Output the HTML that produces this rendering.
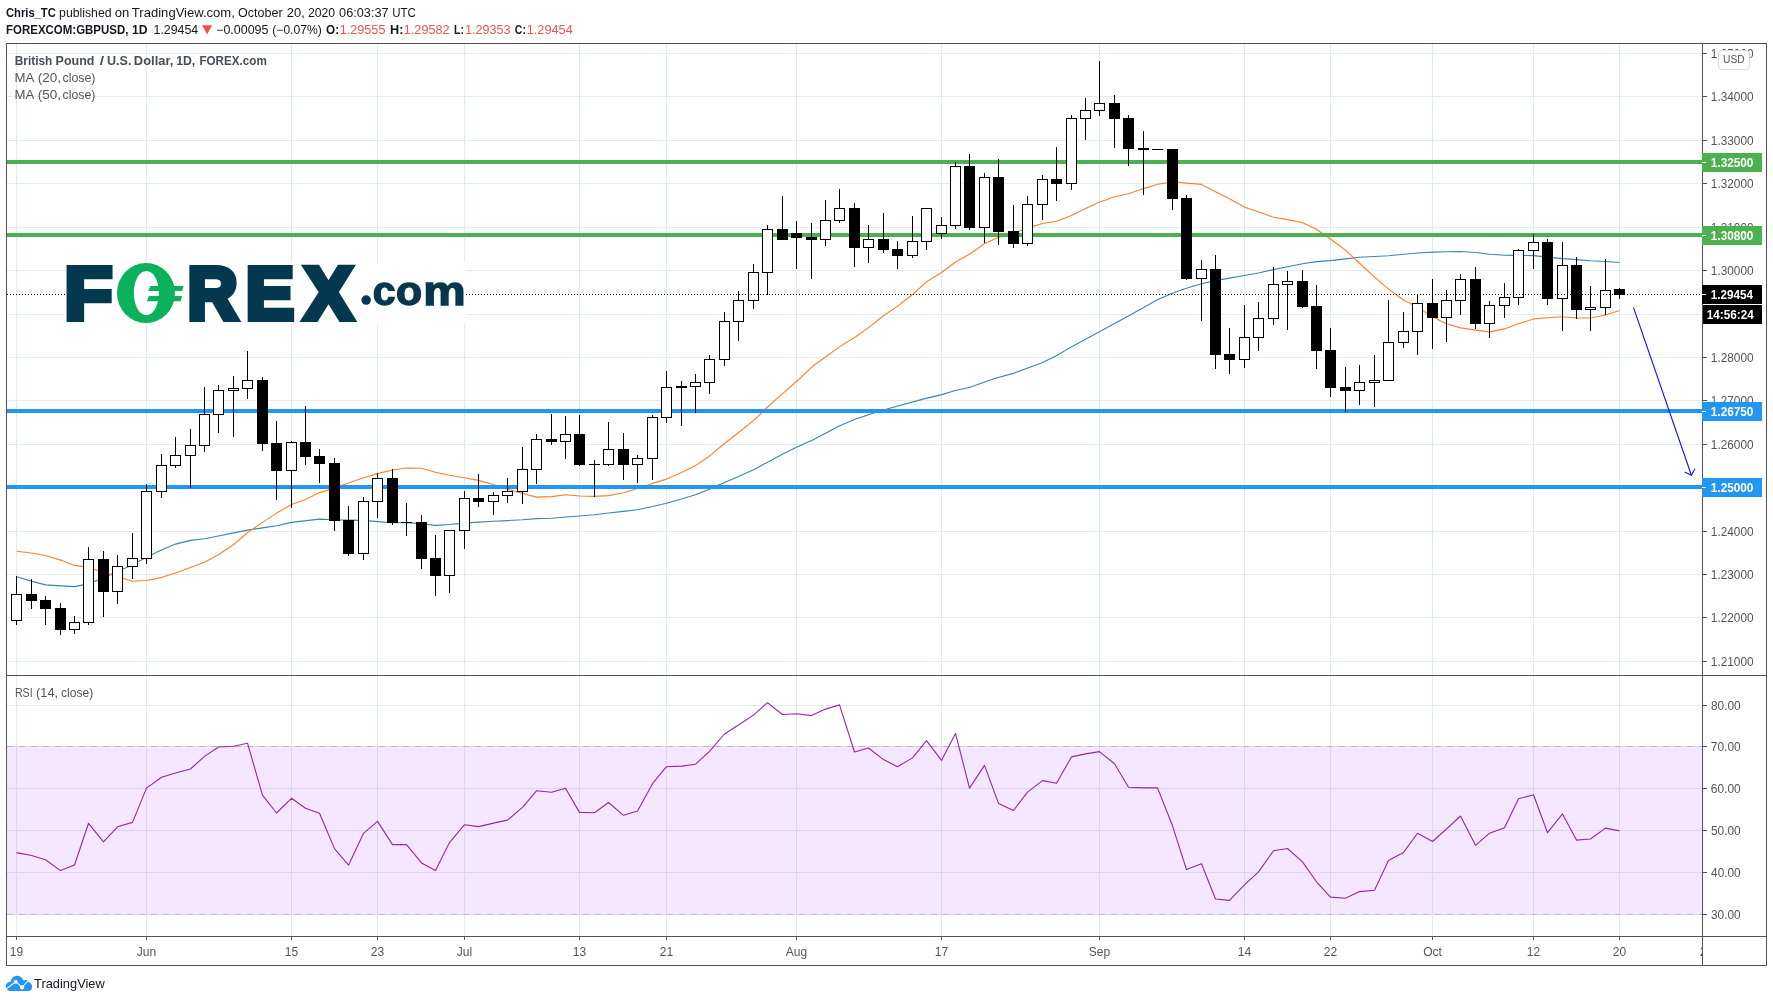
<!DOCTYPE html>
<html lang="en"><head><meta charset="utf-8"><title>GBPUSD chart</title>
<style>html,body{margin:0;padding:0;background:#fff;overflow:hidden}svg{display:block;will-change:transform;transform:translateZ(0)}text{white-space:pre}</style>
</head><body>
<svg width="1773" height="1002" viewBox="0 0 1773 1002" font-family="'Liberation Sans', Arial, sans-serif">
<rect x="0" y="0" width="1773" height="1002" fill="#ffffff"/>
<g shape-rendering="crispEdges">
<rect x="16" y="44" width="1" height="892" fill="#e1ecf2"/>
<rect x="146" y="44" width="1" height="892" fill="#e1ecf2"/>
<rect x="291" y="44" width="1" height="892" fill="#e1ecf2"/>
<rect x="377" y="44" width="1" height="892" fill="#e1ecf2"/>
<rect x="464" y="44" width="1" height="892" fill="#e1ecf2"/>
<rect x="579" y="44" width="1" height="892" fill="#e1ecf2"/>
<rect x="666" y="44" width="1" height="892" fill="#e1ecf2"/>
<rect x="796" y="44" width="1" height="892" fill="#e1ecf2"/>
<rect x="941" y="44" width="1" height="892" fill="#e1ecf2"/>
<rect x="1099" y="44" width="1" height="892" fill="#e1ecf2"/>
<rect x="1244" y="44" width="1" height="892" fill="#e1ecf2"/>
<rect x="1330" y="44" width="1" height="892" fill="#e1ecf2"/>
<rect x="1432" y="44" width="1" height="892" fill="#e1ecf2"/>
<rect x="1533" y="44" width="1" height="892" fill="#e1ecf2"/>
<rect x="1619" y="44" width="1" height="892" fill="#e1ecf2"/>
<rect x="7" y="53" width="1695" height="1" fill="#e1ecf2"/>
<rect x="7" y="96" width="1695" height="1" fill="#e1ecf2"/>
<rect x="7" y="140" width="1695" height="1" fill="#e1ecf2"/>
<rect x="7" y="183" width="1695" height="1" fill="#e1ecf2"/>
<rect x="7" y="227" width="1695" height="1" fill="#e1ecf2"/>
<rect x="7" y="270" width="1695" height="1" fill="#e1ecf2"/>
<rect x="7" y="314" width="1695" height="1" fill="#e1ecf2"/>
<rect x="7" y="357" width="1695" height="1" fill="#e1ecf2"/>
<rect x="7" y="400" width="1695" height="1" fill="#e1ecf2"/>
<rect x="7" y="444" width="1695" height="1" fill="#e1ecf2"/>
<rect x="7" y="487" width="1695" height="1" fill="#e1ecf2"/>
<rect x="7" y="531" width="1695" height="1" fill="#e1ecf2"/>
<rect x="7" y="574" width="1695" height="1" fill="#e1ecf2"/>
<rect x="7" y="617" width="1695" height="1" fill="#e1ecf2"/>
<rect x="7" y="661" width="1695" height="1" fill="#e1ecf2"/>
<rect x="7" y="705" width="1695" height="1" fill="#e1ecf2"/>
<rect x="7" y="746" width="1695" height="1" fill="#e1ecf2"/>
<rect x="7" y="788" width="1695" height="1" fill="#e1ecf2"/>
<rect x="7" y="830" width="1695" height="1" fill="#e1ecf2"/>
<rect x="7" y="872" width="1695" height="1" fill="#e1ecf2"/>
<rect x="7" y="914" width="1695" height="1" fill="#e1ecf2"/>
</g>
<rect x="7" y="746" width="1695" height="169" fill="rgba(153,21,255,0.10)" shape-rendering="crispEdges"/>
<line x1="7" y1="746.5" x2="1702" y2="746.5" stroke="#bdb9bb" stroke-width="1" stroke-dasharray="6,6" shape-rendering="crispEdges"/>
<line x1="7" y1="914.5" x2="1702" y2="914.5" stroke="#bdb9bb" stroke-width="1" stroke-dasharray="6,6" shape-rendering="crispEdges"/>
<polyline points="16.5,576.7 31.4,581.1 45.5,584.9 60.6,585.9 74.5,586.6 88.4,583.9 103.5,577.6 117.6,571.6 132.5,564.8 146.4,557.2 161.4,549.9 175.5,544.1 190.4,540.4 204.5,538.7 218.4,536.0 233.7,532.9 247.6,530.1 262.5,527.9 276.6,525.8 291.5,522.4 300.0,521.4 319.5,519.1 334.6,519.8 348.5,520.1 363.5,520.4 377.5,521.6 392.5,522.8 406.6,522.6 421.5,523.8 435.4,525.4 449.5,524.5 464.4,523.1 478.5,522.1 493.4,521.3 507.4,520.6 522.5,519.8 536.6,518.6 551.5,518.2 565.6,517.0 579.5,516.0 594.6,514.7 608.6,513.0 623.5,511.4 637.5,509.7 652.6,506.5 666.5,503.2 681.6,499.0 695.5,494.8 709.4,489.3 724.5,482.5 738.6,476.6 753.5,469.8 767.6,462.2 781.7,454.5 796.5,447.3 812.7,439.9 839.8,425.8 855.7,419.0 876.1,412.2 889.7,408.2 925.9,398.4 941.8,394.6 955.3,390.5 970.1,387.3 993.8,378.7 1014.2,373.1 1041.4,362.9 1055.0,356.5 1073.1,345.9 1100.3,331.2 1129.8,315.3 1156.9,299.9 1171.5,293.6 1186.5,288.3 1201.4,283.7 1215.5,280.6 1229.4,278.1 1244.5,275.5 1258.4,273.0 1273.5,269.6 1287.6,266.7 1302.5,263.7 1316.4,261.6 1330.5,260.6 1345.5,258.9 1359.5,257.2 1374.5,256.5 1388.6,255.7 1403.7,254.3 1417.6,253.0 1432.5,252.1 1446.6,251.8 1460.5,251.5 1475.5,252.5 1489.4,254.2 1504.5,255.2 1518.4,255.4 1533.5,255.6 1547.4,257.1 1562.5,258.6 1576.6,259.6 1590.5,260.7 1605.6,261.5 1619.5,262.5" fill="none" stroke="#3c85aa" stroke-width="1.1" stroke-linejoin="round"/>
<polyline points="16.5,551.3 31.4,553.0 45.5,555.5 60.6,560.1 74.5,565.4 88.4,567.4 103.5,572.5 117.6,576.7 132.5,581.3 146.4,580.5 161.4,577.6 175.5,573.0 190.4,567.4 204.5,562.3 218.4,554.7 233.7,544.5 247.6,532.6 262.5,522.4 276.6,513.1 291.5,504.6 305.5,499.5 319.5,492.6 334.6,488.0 348.5,483.0 363.5,477.7 377.5,473.6 392.5,470.0 406.6,468.0 421.5,468.2 435.4,472.2 449.5,475.3 464.4,477.7 478.5,480.4 493.4,484.5 507.4,489.2 522.5,493.5 536.6,497.1 551.5,496.6 565.6,494.7 579.5,496.0 594.5,496.4 608.6,495.6 623.5,492.7 637.5,488.5 652.6,483.4 666.5,479.1 681.6,472.4 695.5,465.6 709.4,456.2 724.5,443.5 738.6,432.5 753.5,420.6 767.6,407.0 781.7,394.3 796.5,381.5 812.7,366.3 825.5,357.0 839.8,346.6 855.7,336.8 868.5,327.6 883.4,315.8 897.4,306.4 912.5,294.5 926.6,281.8 941.5,272.5 955.6,262.0 969.5,254.2 984.6,243.5 998.4,237.5 1013.5,233.2 1027.4,228.1 1042.5,223.5 1056.6,221.3 1071.5,215.4 1085.6,208.6 1099.5,202.2 1114.5,196.7 1128.5,193.7 1143.5,188.6 1157.6,184.3 1166.9,182.8 1178.0,182.3 1186.6,183.1 1201.5,184.4 1215.5,191.7 1229.5,198.8 1244.7,207.2 1258.8,212.0 1273.5,217.2 1287.6,219.6 1302.2,222.5 1316.3,229.2 1330.4,239.0 1345.6,250.1 1359.8,263.5 1374.5,277.2 1388.6,289.1 1403.7,300.2 1417.6,306.9 1426.2,312.9 1439.8,320.5 1446.5,323.8 1460.5,327.9 1475.5,330.1 1489.4,331.9 1504.5,328.9 1518.4,323.8 1533.5,318.9 1547.4,317.8 1562.5,316.8 1576.6,318.0 1590.5,318.0 1605.6,315.0 1619.5,310.5" fill="none" stroke="#ff7f27" stroke-width="1.1" stroke-linejoin="round"/>
<g shape-rendering="crispEdges">
<rect x="7" y="160" width="1695" height="4" fill="#4caf50"/>
<rect x="7" y="233" width="1695" height="4" fill="#4caf50"/>
<rect x="7" y="409" width="1695" height="4" fill="#2196f3"/>
<rect x="7" y="485" width="1695" height="4" fill="#2196f3"/>
<rect x="16" y="576" width="1" height="49" fill="#000"/>
<rect x="11" y="594" width="11" height="27" fill="#000"/>
<rect x="12" y="595" width="9" height="25" fill="#fff"/>
<rect x="31" y="579" width="1" height="30" fill="#000"/>
<rect x="26" y="594" width="11" height="7" fill="#000"/>
<rect x="45" y="596" width="1" height="29" fill="#000"/>
<rect x="40" y="600" width="11" height="9" fill="#000"/>
<rect x="60" y="603" width="1" height="32" fill="#000"/>
<rect x="55" y="608" width="11" height="22" fill="#000"/>
<rect x="74" y="616" width="1" height="18" fill="#000"/>
<rect x="69" y="622" width="11" height="8" fill="#000"/>
<rect x="70" y="623" width="9" height="6" fill="#fff"/>
<rect x="88" y="547" width="1" height="78" fill="#000"/>
<rect x="83" y="559" width="11" height="64" fill="#000"/>
<rect x="84" y="560" width="9" height="62" fill="#fff"/>
<rect x="103" y="551" width="1" height="66" fill="#000"/>
<rect x="98" y="559" width="11" height="33" fill="#000"/>
<rect x="117" y="555" width="1" height="49" fill="#000"/>
<rect x="112" y="566" width="11" height="26" fill="#000"/>
<rect x="113" y="567" width="9" height="24" fill="#fff"/>
<rect x="132" y="533" width="1" height="46" fill="#000"/>
<rect x="127" y="558" width="11" height="9" fill="#000"/>
<rect x="128" y="559" width="9" height="7" fill="#fff"/>
<rect x="146" y="484" width="1" height="80" fill="#000"/>
<rect x="141" y="491" width="11" height="68" fill="#000"/>
<rect x="142" y="492" width="9" height="66" fill="#fff"/>
<rect x="161" y="454" width="1" height="44" fill="#000"/>
<rect x="156" y="465" width="11" height="27" fill="#000"/>
<rect x="157" y="466" width="9" height="25" fill="#fff"/>
<rect x="175" y="437" width="1" height="31" fill="#000"/>
<rect x="170" y="455" width="11" height="11" fill="#000"/>
<rect x="171" y="456" width="9" height="9" fill="#fff"/>
<rect x="190" y="429" width="1" height="59" fill="#000"/>
<rect x="185" y="445" width="11" height="11" fill="#000"/>
<rect x="186" y="446" width="9" height="9" fill="#fff"/>
<rect x="204" y="387" width="1" height="65" fill="#000"/>
<rect x="199" y="414" width="11" height="32" fill="#000"/>
<rect x="200" y="415" width="9" height="30" fill="#fff"/>
<rect x="218" y="385" width="1" height="48" fill="#000"/>
<rect x="213" y="390" width="11" height="25" fill="#000"/>
<rect x="214" y="391" width="9" height="23" fill="#fff"/>
<rect x="233" y="376" width="1" height="61" fill="#000"/>
<rect x="228" y="388" width="11" height="3" fill="#000"/>
<rect x="229" y="389" width="9" height="1" fill="#fff"/>
<rect x="247" y="351" width="1" height="48" fill="#000"/>
<rect x="242" y="380" width="11" height="9" fill="#000"/>
<rect x="243" y="381" width="9" height="7" fill="#fff"/>
<rect x="262" y="377" width="1" height="74" fill="#000"/>
<rect x="257" y="380" width="11" height="64" fill="#000"/>
<rect x="276" y="421" width="1" height="79" fill="#000"/>
<rect x="271" y="443" width="11" height="28" fill="#000"/>
<rect x="291" y="441" width="1" height="67" fill="#000"/>
<rect x="286" y="442" width="11" height="29" fill="#000"/>
<rect x="287" y="443" width="9" height="27" fill="#fff"/>
<rect x="305" y="406" width="1" height="59" fill="#000"/>
<rect x="300" y="442" width="11" height="15" fill="#000"/>
<rect x="319" y="449" width="1" height="34" fill="#000"/>
<rect x="314" y="456" width="11" height="8" fill="#000"/>
<rect x="334" y="458" width="1" height="73" fill="#000"/>
<rect x="329" y="463" width="11" height="58" fill="#000"/>
<rect x="348" y="506" width="1" height="50" fill="#000"/>
<rect x="343" y="520" width="11" height="34" fill="#000"/>
<rect x="363" y="497" width="1" height="63" fill="#000"/>
<rect x="358" y="501" width="11" height="53" fill="#000"/>
<rect x="359" y="502" width="9" height="51" fill="#fff"/>
<rect x="377" y="473" width="1" height="45" fill="#000"/>
<rect x="372" y="478" width="11" height="24" fill="#000"/>
<rect x="373" y="479" width="9" height="22" fill="#fff"/>
<rect x="392" y="469" width="1" height="56" fill="#000"/>
<rect x="387" y="478" width="11" height="45" fill="#000"/>
<rect x="406" y="503" width="1" height="33" fill="#000"/>
<rect x="401" y="522" width="11" height="1" fill="#000"/>
<rect x="421" y="515" width="1" height="54" fill="#000"/>
<rect x="416" y="522" width="11" height="37" fill="#000"/>
<rect x="435" y="535" width="1" height="61" fill="#000"/>
<rect x="430" y="558" width="11" height="18" fill="#000"/>
<rect x="449" y="530" width="1" height="63" fill="#000"/>
<rect x="444" y="530" width="11" height="46" fill="#000"/>
<rect x="445" y="531" width="9" height="44" fill="#fff"/>
<rect x="464" y="491" width="1" height="58" fill="#000"/>
<rect x="459" y="498" width="11" height="33" fill="#000"/>
<rect x="460" y="499" width="9" height="31" fill="#fff"/>
<rect x="478" y="474" width="1" height="33" fill="#000"/>
<rect x="473" y="498" width="11" height="4" fill="#000"/>
<rect x="493" y="492" width="1" height="23" fill="#000"/>
<rect x="488" y="495" width="11" height="7" fill="#000"/>
<rect x="489" y="496" width="9" height="5" fill="#fff"/>
<rect x="507" y="478" width="1" height="25" fill="#000"/>
<rect x="502" y="491" width="11" height="5" fill="#000"/>
<rect x="503" y="492" width="9" height="3" fill="#fff"/>
<rect x="522" y="447" width="1" height="57" fill="#000"/>
<rect x="517" y="469" width="11" height="23" fill="#000"/>
<rect x="518" y="470" width="9" height="21" fill="#fff"/>
<rect x="536" y="434" width="1" height="50" fill="#000"/>
<rect x="531" y="439" width="11" height="31" fill="#000"/>
<rect x="532" y="440" width="9" height="29" fill="#fff"/>
<rect x="551" y="414" width="1" height="31" fill="#000"/>
<rect x="546" y="439" width="11" height="3" fill="#000"/>
<rect x="565" y="416" width="1" height="43" fill="#000"/>
<rect x="560" y="434" width="11" height="8" fill="#000"/>
<rect x="561" y="435" width="9" height="6" fill="#fff"/>
<rect x="579" y="415" width="1" height="51" fill="#000"/>
<rect x="574" y="434" width="11" height="31" fill="#000"/>
<rect x="594" y="460" width="1" height="37" fill="#000"/>
<rect x="589" y="464" width="11" height="1" fill="#000"/>
<rect x="608" y="422" width="1" height="44" fill="#000"/>
<rect x="603" y="449" width="11" height="16" fill="#000"/>
<rect x="604" y="450" width="9" height="14" fill="#fff"/>
<rect x="623" y="433" width="1" height="47" fill="#000"/>
<rect x="618" y="449" width="11" height="16" fill="#000"/>
<rect x="637" y="455" width="1" height="28" fill="#000"/>
<rect x="632" y="458" width="11" height="7" fill="#000"/>
<rect x="633" y="459" width="9" height="5" fill="#fff"/>
<rect x="652" y="415" width="1" height="65" fill="#000"/>
<rect x="647" y="417" width="11" height="42" fill="#000"/>
<rect x="648" y="418" width="9" height="40" fill="#fff"/>
<rect x="666" y="371" width="1" height="52" fill="#000"/>
<rect x="661" y="387" width="11" height="31" fill="#000"/>
<rect x="662" y="388" width="9" height="29" fill="#fff"/>
<rect x="681" y="381" width="1" height="45" fill="#000"/>
<rect x="676" y="386" width="11" height="2" fill="#000"/>
<rect x="695" y="374" width="1" height="39" fill="#000"/>
<rect x="690" y="382" width="11" height="5" fill="#000"/>
<rect x="691" y="383" width="9" height="3" fill="#fff"/>
<rect x="709" y="355" width="1" height="39" fill="#000"/>
<rect x="704" y="359" width="11" height="24" fill="#000"/>
<rect x="705" y="360" width="9" height="22" fill="#fff"/>
<rect x="724" y="312" width="1" height="54" fill="#000"/>
<rect x="719" y="321" width="11" height="39" fill="#000"/>
<rect x="720" y="322" width="9" height="37" fill="#fff"/>
<rect x="738" y="291" width="1" height="50" fill="#000"/>
<rect x="733" y="300" width="11" height="22" fill="#000"/>
<rect x="734" y="301" width="9" height="20" fill="#fff"/>
<rect x="753" y="264" width="1" height="45" fill="#000"/>
<rect x="748" y="272" width="11" height="29" fill="#000"/>
<rect x="749" y="273" width="9" height="27" fill="#fff"/>
<rect x="767" y="225" width="1" height="70" fill="#000"/>
<rect x="762" y="229" width="11" height="44" fill="#000"/>
<rect x="763" y="230" width="9" height="42" fill="#fff"/>
<rect x="782" y="196" width="1" height="44" fill="#000"/>
<rect x="777" y="229" width="11" height="11" fill="#000"/>
<rect x="796" y="221" width="1" height="48" fill="#000"/>
<rect x="791" y="233" width="11" height="5" fill="#000"/>
<rect x="811" y="223" width="1" height="56" fill="#000"/>
<rect x="806" y="237" width="11" height="3" fill="#000"/>
<rect x="825" y="200" width="1" height="46" fill="#000"/>
<rect x="820" y="220" width="11" height="20" fill="#000"/>
<rect x="821" y="221" width="9" height="18" fill="#fff"/>
<rect x="839" y="189" width="1" height="34" fill="#000"/>
<rect x="834" y="208" width="11" height="13" fill="#000"/>
<rect x="835" y="209" width="9" height="11" fill="#fff"/>
<rect x="854" y="203" width="1" height="64" fill="#000"/>
<rect x="849" y="208" width="11" height="40" fill="#000"/>
<rect x="868" y="225" width="1" height="38" fill="#000"/>
<rect x="863" y="239" width="11" height="9" fill="#000"/>
<rect x="864" y="240" width="9" height="7" fill="#fff"/>
<rect x="883" y="213" width="1" height="40" fill="#000"/>
<rect x="878" y="239" width="11" height="11" fill="#000"/>
<rect x="897" y="241" width="1" height="28" fill="#000"/>
<rect x="892" y="249" width="11" height="7" fill="#000"/>
<rect x="912" y="216" width="1" height="42" fill="#000"/>
<rect x="907" y="241" width="11" height="15" fill="#000"/>
<rect x="908" y="242" width="9" height="13" fill="#fff"/>
<rect x="926" y="208" width="1" height="42" fill="#000"/>
<rect x="921" y="208" width="11" height="34" fill="#000"/>
<rect x="922" y="209" width="9" height="32" fill="#fff"/>
<rect x="941" y="217" width="1" height="22" fill="#000"/>
<rect x="936" y="225" width="11" height="9" fill="#000"/>
<rect x="937" y="226" width="9" height="7" fill="#fff"/>
<rect x="955" y="162" width="1" height="67" fill="#000"/>
<rect x="950" y="166" width="11" height="60" fill="#000"/>
<rect x="951" y="167" width="9" height="58" fill="#fff"/>
<rect x="969" y="154" width="1" height="76" fill="#000"/>
<rect x="964" y="166" width="11" height="62" fill="#000"/>
<rect x="984" y="173" width="1" height="70" fill="#000"/>
<rect x="979" y="177" width="11" height="51" fill="#000"/>
<rect x="980" y="178" width="9" height="49" fill="#fff"/>
<rect x="998" y="159" width="1" height="86" fill="#000"/>
<rect x="993" y="177" width="11" height="55" fill="#000"/>
<rect x="1013" y="205" width="1" height="43" fill="#000"/>
<rect x="1008" y="231" width="11" height="13" fill="#000"/>
<rect x="1027" y="196" width="1" height="50" fill="#000"/>
<rect x="1022" y="204" width="11" height="40" fill="#000"/>
<rect x="1023" y="205" width="9" height="38" fill="#fff"/>
<rect x="1042" y="175" width="1" height="45" fill="#000"/>
<rect x="1037" y="179" width="11" height="26" fill="#000"/>
<rect x="1038" y="180" width="9" height="24" fill="#fff"/>
<rect x="1056" y="147" width="1" height="54" fill="#000"/>
<rect x="1051" y="179" width="11" height="5" fill="#000"/>
<rect x="1071" y="115" width="1" height="75" fill="#000"/>
<rect x="1066" y="118" width="11" height="66" fill="#000"/>
<rect x="1067" y="119" width="9" height="64" fill="#fff"/>
<rect x="1085" y="98" width="1" height="42" fill="#000"/>
<rect x="1080" y="110" width="11" height="9" fill="#000"/>
<rect x="1081" y="111" width="9" height="7" fill="#fff"/>
<rect x="1099" y="61" width="1" height="55" fill="#000"/>
<rect x="1094" y="103" width="11" height="8" fill="#000"/>
<rect x="1095" y="104" width="9" height="6" fill="#fff"/>
<rect x="1114" y="95" width="1" height="53" fill="#000"/>
<rect x="1109" y="103" width="11" height="16" fill="#000"/>
<rect x="1128" y="115" width="1" height="51" fill="#000"/>
<rect x="1123" y="118" width="11" height="31" fill="#000"/>
<rect x="1143" y="131" width="1" height="64" fill="#000"/>
<rect x="1138" y="148" width="11" height="2" fill="#000"/>
<rect x="1152" y="149" width="11" height="1" fill="#000"/>
<rect x="1172" y="149" width="1" height="61" fill="#000"/>
<rect x="1167" y="149" width="11" height="50" fill="#000"/>
<rect x="1186" y="195" width="1" height="85" fill="#000"/>
<rect x="1181" y="198" width="11" height="81" fill="#000"/>
<rect x="1201" y="260" width="1" height="61" fill="#000"/>
<rect x="1196" y="269" width="11" height="10" fill="#000"/>
<rect x="1197" y="270" width="9" height="8" fill="#fff"/>
<rect x="1215" y="255" width="1" height="114" fill="#000"/>
<rect x="1210" y="269" width="11" height="86" fill="#000"/>
<rect x="1229" y="328" width="1" height="46" fill="#000"/>
<rect x="1224" y="354" width="11" height="6" fill="#000"/>
<rect x="1244" y="305" width="1" height="63" fill="#000"/>
<rect x="1239" y="337" width="11" height="23" fill="#000"/>
<rect x="1240" y="338" width="9" height="21" fill="#fff"/>
<rect x="1258" y="302" width="1" height="49" fill="#000"/>
<rect x="1253" y="318" width="11" height="20" fill="#000"/>
<rect x="1254" y="319" width="9" height="18" fill="#fff"/>
<rect x="1273" y="267" width="1" height="58" fill="#000"/>
<rect x="1268" y="284" width="11" height="35" fill="#000"/>
<rect x="1269" y="285" width="9" height="33" fill="#fff"/>
<rect x="1287" y="271" width="1" height="59" fill="#000"/>
<rect x="1282" y="281" width="11" height="4" fill="#000"/>
<rect x="1283" y="282" width="9" height="2" fill="#fff"/>
<rect x="1302" y="270" width="1" height="38" fill="#000"/>
<rect x="1297" y="281" width="11" height="26" fill="#000"/>
<rect x="1316" y="285" width="1" height="84" fill="#000"/>
<rect x="1311" y="306" width="11" height="45" fill="#000"/>
<rect x="1330" y="328" width="1" height="69" fill="#000"/>
<rect x="1325" y="350" width="11" height="38" fill="#000"/>
<rect x="1345" y="367" width="1" height="45" fill="#000"/>
<rect x="1340" y="387" width="11" height="4" fill="#000"/>
<rect x="1359" y="365" width="1" height="40" fill="#000"/>
<rect x="1354" y="382" width="11" height="9" fill="#000"/>
<rect x="1355" y="383" width="9" height="7" fill="#fff"/>
<rect x="1374" y="355" width="1" height="52" fill="#000"/>
<rect x="1369" y="380" width="11" height="3" fill="#000"/>
<rect x="1370" y="381" width="9" height="1" fill="#fff"/>
<rect x="1388" y="300" width="1" height="81" fill="#000"/>
<rect x="1383" y="342" width="11" height="39" fill="#000"/>
<rect x="1384" y="343" width="9" height="37" fill="#fff"/>
<rect x="1403" y="312" width="1" height="36" fill="#000"/>
<rect x="1398" y="331" width="11" height="12" fill="#000"/>
<rect x="1399" y="332" width="9" height="10" fill="#fff"/>
<rect x="1417" y="294" width="1" height="61" fill="#000"/>
<rect x="1412" y="303" width="11" height="29" fill="#000"/>
<rect x="1413" y="304" width="9" height="27" fill="#fff"/>
<rect x="1432" y="279" width="1" height="70" fill="#000"/>
<rect x="1427" y="303" width="11" height="15" fill="#000"/>
<rect x="1446" y="290" width="1" height="52" fill="#000"/>
<rect x="1441" y="300" width="11" height="18" fill="#000"/>
<rect x="1442" y="301" width="9" height="16" fill="#fff"/>
<rect x="1460" y="274" width="1" height="41" fill="#000"/>
<rect x="1455" y="279" width="11" height="22" fill="#000"/>
<rect x="1456" y="280" width="9" height="20" fill="#fff"/>
<rect x="1475" y="267" width="1" height="62" fill="#000"/>
<rect x="1470" y="279" width="11" height="45" fill="#000"/>
<rect x="1489" y="301" width="1" height="37" fill="#000"/>
<rect x="1484" y="305" width="11" height="19" fill="#000"/>
<rect x="1485" y="306" width="9" height="17" fill="#fff"/>
<rect x="1504" y="283" width="1" height="35" fill="#000"/>
<rect x="1499" y="297" width="11" height="9" fill="#000"/>
<rect x="1500" y="298" width="9" height="7" fill="#fff"/>
<rect x="1518" y="249" width="1" height="56" fill="#000"/>
<rect x="1513" y="250" width="11" height="48" fill="#000"/>
<rect x="1514" y="251" width="9" height="46" fill="#fff"/>
<rect x="1533" y="234" width="1" height="35" fill="#000"/>
<rect x="1528" y="242" width="11" height="9" fill="#000"/>
<rect x="1529" y="243" width="9" height="7" fill="#fff"/>
<rect x="1547" y="239" width="1" height="66" fill="#000"/>
<rect x="1542" y="242" width="11" height="57" fill="#000"/>
<rect x="1562" y="242" width="1" height="89" fill="#000"/>
<rect x="1557" y="265" width="11" height="34" fill="#000"/>
<rect x="1558" y="266" width="9" height="32" fill="#fff"/>
<rect x="1576" y="257" width="1" height="62" fill="#000"/>
<rect x="1571" y="265" width="11" height="45" fill="#000"/>
<rect x="1590" y="286" width="1" height="45" fill="#000"/>
<rect x="1585" y="307" width="11" height="3" fill="#000"/>
<rect x="1586" y="308" width="9" height="1" fill="#fff"/>
<rect x="1605" y="259" width="1" height="56" fill="#000"/>
<rect x="1600" y="290" width="11" height="18" fill="#000"/>
<rect x="1601" y="291" width="9" height="16" fill="#fff"/>
<rect x="1619" y="288" width="1" height="11" fill="#000"/>
<rect x="1614" y="289" width="11" height="6" fill="#000"/>
</g>
<line x1="7" y1="294.5" x2="1702" y2="294.5" stroke="#000" stroke-width="1" stroke-dasharray="1,2" shape-rendering="crispEdges"/>
<g stroke="#1414ff" stroke-width="1.15" fill="none" stroke-linecap="round">
<line x1="1633.6" y1="307.9" x2="1691.4" y2="475.3"/>
<polyline points="1685.1,472.2 1691.4,475.3 1694.7,469.2"/>
</g>
<polyline points="16.5,852.6 31.5,855.5 45.5,859.7 60.5,870.6 74.5,865.0 88.5,823.3 103.5,841.9 117.5,826.8 132.5,822.4 146.5,788.1 161.5,777.2 175.5,773.0 190.5,769.0 204.5,756.4 218.5,747.0 233.5,746.2 247.5,743.2 262.5,795.2 276.5,813.0 291.5,798.3 305.5,808.2 319.5,813.2 334.5,848.6 348.5,865.2 363.5,833.3 377.5,821.4 392.5,844.6 406.5,844.6 421.5,862.9 435.5,870.4 449.5,842.6 464.5,824.7 478.5,826.6 493.5,823.1 507.5,820.1 522.5,807.4 536.5,790.8 551.5,792.3 565.5,788.3 579.5,812.4 594.5,812.8 608.5,802.5 623.5,815.3 637.5,810.9 652.5,783.7 666.5,766.7 681.5,766.1 695.5,764.2 709.5,751.4 724.5,734.0 738.5,725.0 753.5,715.1 767.5,702.6 782.5,714.5 796.5,713.7 811.5,715.6 825.5,709.1 839.5,704.9 854.5,752.0 868.5,748.0 883.5,759.6 897.5,766.7 912.5,757.9 926.5,740.7 941.5,760.4 955.5,733.4 969.5,788.1 984.5,765.4 998.5,803.4 1013.5,810.5 1027.5,792.1 1042.5,780.6 1056.5,783.3 1071.5,756.9 1085.5,753.9 1099.5,751.6 1114.5,763.8 1128.5,787.3 1143.5,787.9 1157.5,787.9 1172.5,825.8 1186.5,869.6 1201.5,863.8 1215.5,899.0 1229.5,900.4 1244.5,884.9 1258.5,871.9 1273.5,850.8 1287.5,848.5 1302.5,861.9 1316.5,881.8 1330.5,897.1 1345.5,898.3 1359.5,891.6 1374.5,890.2 1388.5,860.4 1403.5,852.4 1417.5,833.2 1432.5,841.5 1446.5,829.0 1460.5,816.0 1475.5,845.3 1489.5,833.2 1504.5,827.7 1518.5,798.8 1533.5,794.8 1547.5,832.7 1562.5,813.9 1576.5,840.1 1590.5,839.0 1605.5,828.1 1619.5,830.9" fill="none" stroke="#9527ab" stroke-width="1.1" stroke-linejoin="round"/>
<g shape-rendering="crispEdges">
<rect x="6" y="43" width="1761" height="1" fill="#50535e"/>
<rect x="6" y="965" width="1761" height="1" fill="#50535e"/>
<rect x="6" y="43" width="1" height="923" fill="#50535e"/>
<rect x="1766" y="43" width="1" height="923" fill="#50535e"/>
<rect x="1702" y="43" width="1" height="923" fill="#50535e"/>
<rect x="6" y="675" width="1761" height="1" fill="#50535e"/>
<rect x="6" y="936" width="1761" height="1" fill="#50535e"/>
<rect x="16" y="937" width="1" height="3" fill="#50535e"/>
<rect x="146" y="937" width="1" height="3" fill="#50535e"/>
<rect x="291" y="937" width="1" height="3" fill="#50535e"/>
<rect x="377" y="937" width="1" height="3" fill="#50535e"/>
<rect x="464" y="937" width="1" height="3" fill="#50535e"/>
<rect x="579" y="937" width="1" height="3" fill="#50535e"/>
<rect x="666" y="937" width="1" height="3" fill="#50535e"/>
<rect x="796" y="937" width="1" height="3" fill="#50535e"/>
<rect x="941" y="937" width="1" height="3" fill="#50535e"/>
<rect x="1099" y="937" width="1" height="3" fill="#50535e"/>
<rect x="1244" y="937" width="1" height="3" fill="#50535e"/>
<rect x="1330" y="937" width="1" height="3" fill="#50535e"/>
<rect x="1432" y="937" width="1" height="3" fill="#50535e"/>
<rect x="1533" y="937" width="1" height="3" fill="#50535e"/>
<rect x="1619" y="937" width="1" height="3" fill="#50535e"/>
<rect x="1703" y="53" width="4" height="1" fill="#50535e"/>
<rect x="1703" y="96" width="4" height="1" fill="#50535e"/>
<rect x="1703" y="140" width="4" height="1" fill="#50535e"/>
<rect x="1703" y="183" width="4" height="1" fill="#50535e"/>
<rect x="1703" y="227" width="4" height="1" fill="#50535e"/>
<rect x="1703" y="270" width="4" height="1" fill="#50535e"/>
<rect x="1703" y="314" width="4" height="1" fill="#50535e"/>
<rect x="1703" y="357" width="4" height="1" fill="#50535e"/>
<rect x="1703" y="400" width="4" height="1" fill="#50535e"/>
<rect x="1703" y="444" width="4" height="1" fill="#50535e"/>
<rect x="1703" y="487" width="4" height="1" fill="#50535e"/>
<rect x="1703" y="531" width="4" height="1" fill="#50535e"/>
<rect x="1703" y="574" width="4" height="1" fill="#50535e"/>
<rect x="1703" y="617" width="4" height="1" fill="#50535e"/>
<rect x="1703" y="661" width="4" height="1" fill="#50535e"/>
<rect x="1703" y="705" width="4" height="1" fill="#50535e"/>
<rect x="1703" y="746" width="4" height="1" fill="#50535e"/>
<rect x="1703" y="788" width="4" height="1" fill="#50535e"/>
<rect x="1703" y="830" width="4" height="1" fill="#50535e"/>
<rect x="1703" y="872" width="4" height="1" fill="#50535e"/>
<rect x="1703" y="914" width="4" height="1" fill="#50535e"/>
</g>
<text transform="translate(1710.81,57.8) scale(0.9857,1)" font-size="12" fill="#555555">1.35000</text>
<text transform="translate(1710.81,100.8) scale(0.9857,1)" font-size="12" fill="#555555">1.34000</text>
<text transform="translate(1710.81,144.8) scale(0.9857,1)" font-size="12" fill="#555555">1.33000</text>
<text transform="translate(1710.81,187.8) scale(0.9857,1)" font-size="12" fill="#555555">1.32000</text>
<text transform="translate(1710.81,231.8) scale(0.9857,1)" font-size="12" fill="#555555">1.31000</text>
<text transform="translate(1710.81,274.8) scale(0.9857,1)" font-size="12" fill="#555555">1.30000</text>
<text transform="translate(1710.81,318.8) scale(0.9857,1)" font-size="12" fill="#555555">1.29000</text>
<text transform="translate(1710.81,361.8) scale(0.9857,1)" font-size="12" fill="#555555">1.28000</text>
<text transform="translate(1710.81,404.8) scale(0.9857,1)" font-size="12" fill="#555555">1.27000</text>
<text transform="translate(1710.81,448.8) scale(0.9857,1)" font-size="12" fill="#555555">1.26000</text>
<text transform="translate(1710.81,491.8) scale(0.9857,1)" font-size="12" fill="#555555">1.25000</text>
<text transform="translate(1710.81,535.8) scale(0.9857,1)" font-size="12" fill="#555555">1.24000</text>
<text transform="translate(1710.81,578.8) scale(0.9857,1)" font-size="12" fill="#555555">1.23000</text>
<text transform="translate(1710.81,621.8) scale(0.9857,1)" font-size="12" fill="#555555">1.22000</text>
<text transform="translate(1710.81,665.8) scale(0.9857,1)" font-size="12" fill="#555555">1.21000</text>
<text transform="translate(1710.90,709.8) scale(0.9931,1)" font-size="12" fill="#555555">80.00</text>
<text transform="translate(1710.80,750.8) scale(0.9966,1)" font-size="12" fill="#555555">70.00</text>
<text transform="translate(1710.80,792.8) scale(0.9966,1)" font-size="12" fill="#555555">60.00</text>
<text transform="translate(1710.90,834.8) scale(0.9931,1)" font-size="12" fill="#555555">50.00</text>
<text transform="translate(1711.10,876.8) scale(0.9863,1)" font-size="12" fill="#555555">40.00</text>
<text transform="translate(1710.90,918.8) scale(0.9931,1)" font-size="12" fill="#555555">30.00</text>
<rect x="1718.5" y="50.5" width="31" height="19" rx="3.5" fill="#fff" stroke="#d6d9e0" stroke-width="1"/>
<text transform="translate(1723.10,62.9) scale(0.8904,1)" font-size="11.5" fill="#555555">USD</text>
<g shape-rendering="crispEdges">
<rect x="1702" y="153" width="60" height="19" fill="#4caf50"/>
<rect x="1702" y="162" width="4" height="1" fill="#fff"/>
<rect x="1702" y="226" width="60" height="19" fill="#4caf50"/>
<rect x="1702" y="235" width="4" height="1" fill="#fff"/>
<rect x="1702" y="402" width="60" height="19" fill="#2196f3"/>
<rect x="1702" y="411" width="4" height="1" fill="#fff"/>
<rect x="1702" y="478" width="60" height="19" fill="#2196f3"/>
<rect x="1702" y="487" width="4" height="1" fill="#fff"/>
<rect x="1702" y="285" width="60" height="19" fill="#000"/>
<rect x="1702" y="294" width="4" height="1" fill="#fff"/>
<rect x="1703" y="305" width="59" height="19" fill="#000"/>
</g>
<text transform="translate(1710.81,167.0) scale(0.9834,1)" font-size="12" fill="#fff" font-weight="bold">1.32500</text>
<text transform="translate(1710.81,240.0) scale(0.9834,1)" font-size="12" fill="#fff" font-weight="bold">1.30800</text>
<text transform="translate(1710.81,416.0) scale(0.9834,1)" font-size="12" fill="#fff" font-weight="bold">1.26750</text>
<text transform="translate(1710.81,492.0) scale(0.9834,1)" font-size="12" fill="#fff" font-weight="bold">1.25000</text>
<text transform="translate(1710.82,299.0) scale(0.9741,1)" font-size="12" fill="#fff" font-weight="bold">1.29454</text>
<text transform="translate(1706.72,319.0) scale(0.9788,1)" font-size="12" fill="#fff" font-weight="bold">14:56:24</text>
<text x="16.5" y="955.8" font-size="12" fill="#555555" text-anchor="middle">19</text>
<text x="146.5" y="955.8" font-size="12" fill="#555555" text-anchor="middle">Jun</text>
<text x="291.5" y="955.8" font-size="12" fill="#555555" text-anchor="middle">15</text>
<text x="377.5" y="955.8" font-size="12" fill="#555555" text-anchor="middle">23</text>
<text x="464.5" y="955.8" font-size="12" fill="#555555" text-anchor="middle">Jul</text>
<text x="579.5" y="955.8" font-size="12" fill="#555555" text-anchor="middle">13</text>
<text x="666.5" y="955.8" font-size="12" fill="#555555" text-anchor="middle">21</text>
<text x="796.5" y="955.8" font-size="12" fill="#555555" text-anchor="middle">Aug</text>
<text x="941.5" y="955.8" font-size="12" fill="#555555" text-anchor="middle">17</text>
<text x="1099.5" y="955.8" font-size="12" fill="#555555" text-anchor="middle">Sep</text>
<text x="1244.5" y="955.8" font-size="12" fill="#555555" text-anchor="middle">14</text>
<text x="1330.5" y="955.8" font-size="12" fill="#555555" text-anchor="middle">22</text>
<text x="1432.5" y="955.8" font-size="12" fill="#555555" text-anchor="middle">Oct</text>
<text x="1533.5" y="955.8" font-size="12" fill="#555555" text-anchor="middle">12</text>
<text x="1619.5" y="955.8" font-size="12" fill="#555555" text-anchor="middle">20</text>
<clipPath id="tc"><rect x="7" y="937" width="1695" height="28"/></clipPath>
<g clip-path="url(#tc)">
<text x="1706.5" y="955.8" font-size="12" fill="#555555" text-anchor="middle">28</text>
</g>
<text transform="translate(14.81,64.75) scale(0.9890,1)" font-size="12" fill="#4a4d57" font-weight="bold">British</text>
<text transform="translate(55.57,64.75) scale(1.0420,1)" font-size="12" fill="#4a4d57" font-weight="bold">Pound</text>
<text transform="translate(99.76,64.75) scale(1.3000,1)" font-size="12" fill="#4a4d57" font-weight="bold">/</text>
<text transform="translate(106.96,64.75) scale(1.0505,1)" font-size="12" fill="#4a4d57" font-weight="bold">U.S.</text>
<text transform="translate(133.84,64.75) scale(1.0769,1)" font-size="12" fill="#4a4d57" font-weight="bold">Dollar,</text>
<text transform="translate(176.18,64.75) scale(1.0234,1)" font-size="12" fill="#4a4d57" font-weight="bold">1D,</text>
<text transform="translate(199.42,64.75) scale(0.9720,1)" font-size="12" fill="#4a4d57" font-weight="bold">FOREX.com</text>
<text transform="translate(14.50,81.8) scale(1.1006,1)" font-size="12" fill="#555555">MA</text>
<text transform="translate(37.71,81.8) scale(1.1270,1)" font-size="12" fill="#555555">(20,</text>
<text transform="translate(62.59,81.8) scale(1.0292,1)" font-size="12" fill="#555555">close)</text>
<text transform="translate(14.50,98.7) scale(1.1006,1)" font-size="12" fill="#555555">MA</text>
<text transform="translate(37.71,98.7) scale(1.1270,1)" font-size="12" fill="#555555">(50,</text>
<text transform="translate(62.59,98.7) scale(1.0292,1)" font-size="12" fill="#555555">close)</text>
<text transform="translate(14.91,696.7) scale(0.8883,1)" font-size="12" fill="#555555">RSI</text>
<text transform="translate(36.06,696.7) scale(1.0635,1)" font-size="12" fill="#555555">(14,</text>
<text transform="translate(61.00,696.7) scale(1.0097,1)" font-size="12" fill="#555555">close)</text>
<text transform="translate(5.98,16.7) scale(0.9343,1)" font-size="12" fill="#131722" font-weight="bold">Chris_TC</text>
<text transform="translate(59.08,16.7) scale(1.0221,1)" font-size="12" fill="#131722">published</text>
<text transform="translate(114.65,16.7) scale(1.0909,1)" font-size="12" fill="#131722">on</text>
<text transform="translate(131.87,16.7) scale(1.0884,1)" font-size="12" fill="#131722">TradingView.com,</text>
<text transform="translate(238.07,16.7) scale(1.0453,1)" font-size="12" fill="#131722">October</text>
<text transform="translate(286.86,16.7) scale(1.0733,1)" font-size="12" fill="#131722">20,</text>
<text transform="translate(307.99,16.7) scale(1.0156,1)" font-size="12" fill="#131722">2020</text>
<text transform="translate(339.07,16.7) scale(1.0614,1)" font-size="12" fill="#131722">06:03:37</text>
<text transform="translate(392.14,16.7) scale(0.9571,1)" font-size="12" fill="#131722">UTC</text>
<text transform="translate(6.03,33.6) scale(0.9573,1)" font-size="12" fill="#131722" font-weight="bold">FOREXCOM:GBPUSD,</text>
<text transform="translate(131.99,33.6) scale(1.0143,1)" font-size="12" fill="#131722" font-weight="bold">1D</text>
<text transform="translate(153.57,33.6) scale(1.0309,1)" font-size="12" fill="#131722">1.29454</text>
<polygon points="202.1,25.3 212.1,25.3 207.1,34.4" fill="#ef5350"/>
<text transform="translate(216.13,33.6) scale(1.0396,1)" font-size="12" fill="#131722">−0.00095</text>
<text transform="translate(272.29,33.6) scale(1.0084,1)" font-size="12" fill="#131722">(−0.07%)</text>
<text transform="translate(326.11,33.6) scale(0.9744,1)" font-size="12" fill="#131722" font-weight="bold">O:</text>
<text transform="translate(339.86,33.6) scale(1.0500,1)" font-size="12" fill="#ef5350">1.29555</text>
<text transform="translate(390.06,33.6) scale(1.0561,1)" font-size="12" fill="#131722" font-weight="bold">H:</text>
<text transform="translate(403.85,33.6) scale(1.0525,1)" font-size="12" fill="#ef5350">1.29582</text>
<text transform="translate(454.00,33.6) scale(0.8723,1)" font-size="12" fill="#131722" font-weight="bold">L:</text>
<text transform="translate(464.95,33.6) scale(1.0501,1)" font-size="12" fill="#ef5350">1.29353</text>
<text transform="translate(514.86,33.6) scale(0.8727,1)" font-size="12" fill="#131722" font-weight="bold">C:</text>
<text transform="translate(526.75,33.6) scale(1.0594,1)" font-size="12" fill="#ef5350">1.29454</text>
<path fill="#2196f3" d="M9.8,991 C7.6,991 5.9,989 5.9,986.3 C5.9,983.6 8.0,981.5 10.8,981.4 C11.3,978.2 13.8,975.8 16.9,975.8 C19.9,975.8 22.3,977.8 23.3,980.5 C24.0,980.1 24.9,979.9 25.8,979.9 C26.5,979.9 27.2,980.1 27.8,980.4 L29.0,982.2 C30.9,983.0 32.2,984.8 32.2,986.9 C32.2,989.2 30.4,991 28.1,991 Z"/>
<polyline points="6.3,988.9 15.75,981.7 22.1,987.4 28.3,980.5" fill="none" stroke="#fff" stroke-width="1.1" stroke-linejoin="round"/>
<circle cx="15.75" cy="981.7" r="1.95" fill="#fff"/><circle cx="22.1" cy="987.4" r="2.05" fill="#fff"/>
<text transform="translate(34.08,987.8) scale(1.0714,1)" font-size="12" fill="#131722">TradingView</text>
<g id="logo">
<rect x="65" y="262" width="401" height="62" fill="#fff" shape-rendering="crispEdges"/>
<text transform="translate(0,318.98) scale(0.3739)" font-family="Liberation Sans" font-weight="bold" font-size="200" stroke-width="16.2" stroke-linejoin="miter"><tspan x="172.51" textLength="127.76" lengthAdjust="spacingAndGlyphs" fill="#04384e" stroke="#04384e">F</tspan><tspan x="324.28" textLength="132.02" lengthAdjust="spacingAndGlyphs" fill="#0cb15b" stroke="#0cb15b">O</tspan><tspan x="501.60" textLength="134.09" lengthAdjust="spacingAndGlyphs" fill="#04384e" stroke="#04384e">R</tspan><tspan x="657.13" textLength="129.23" lengthAdjust="spacingAndGlyphs" fill="#04384e" stroke="#04384e">E</tspan><tspan x="813.72" textLength="129.46" lengthAdjust="spacingAndGlyphs" fill="#04384e" stroke="#04384e">X</tspan><tspan x="968.71" textLength="21.46" lengthAdjust="spacingAndGlyphs" fill="#04384e" stroke="#04384e" y="-42.27" font-size="110.7" stroke-width="0">.</tspan><tspan x="996.79" textLength="60.84" lengthAdjust="spacingAndGlyphs" fill="#04384e" stroke="#04384e" y="-38.27" font-size="110.7" stroke-width="3.76">c</tspan><tspan x="1059.37" textLength="69.81" lengthAdjust="spacingAndGlyphs" fill="#04384e" stroke="#04384e" y="-38.27" font-size="110.7" stroke-width="3.76">o</tspan><tspan x="1131.72" textLength="113.45" lengthAdjust="spacingAndGlyphs" fill="#04384e" stroke="#04384e" y="-38.27" font-size="110.7" stroke-width="3.76">m</tspan></text>
<ellipse cx="146" cy="293" rx="29" ry="30.1" fill="#0cb15b"/>
<ellipse cx="146.35" cy="293" rx="12.55" ry="22.1" fill="#fff"/>
<polygon points="150.3,286.1 183.6,286.1 182.1,290.9 148.4,290.9" fill="#0cb15b"/>
<polygon points="148.8,296.0 182.1,296.0 180.6,301.3 146.9,301.3" fill="#0cb15b"/>
<circle cx="366.15" cy="300.1" r="4.75" fill="#04384e"/>
</g>
</svg>
</body></html>
